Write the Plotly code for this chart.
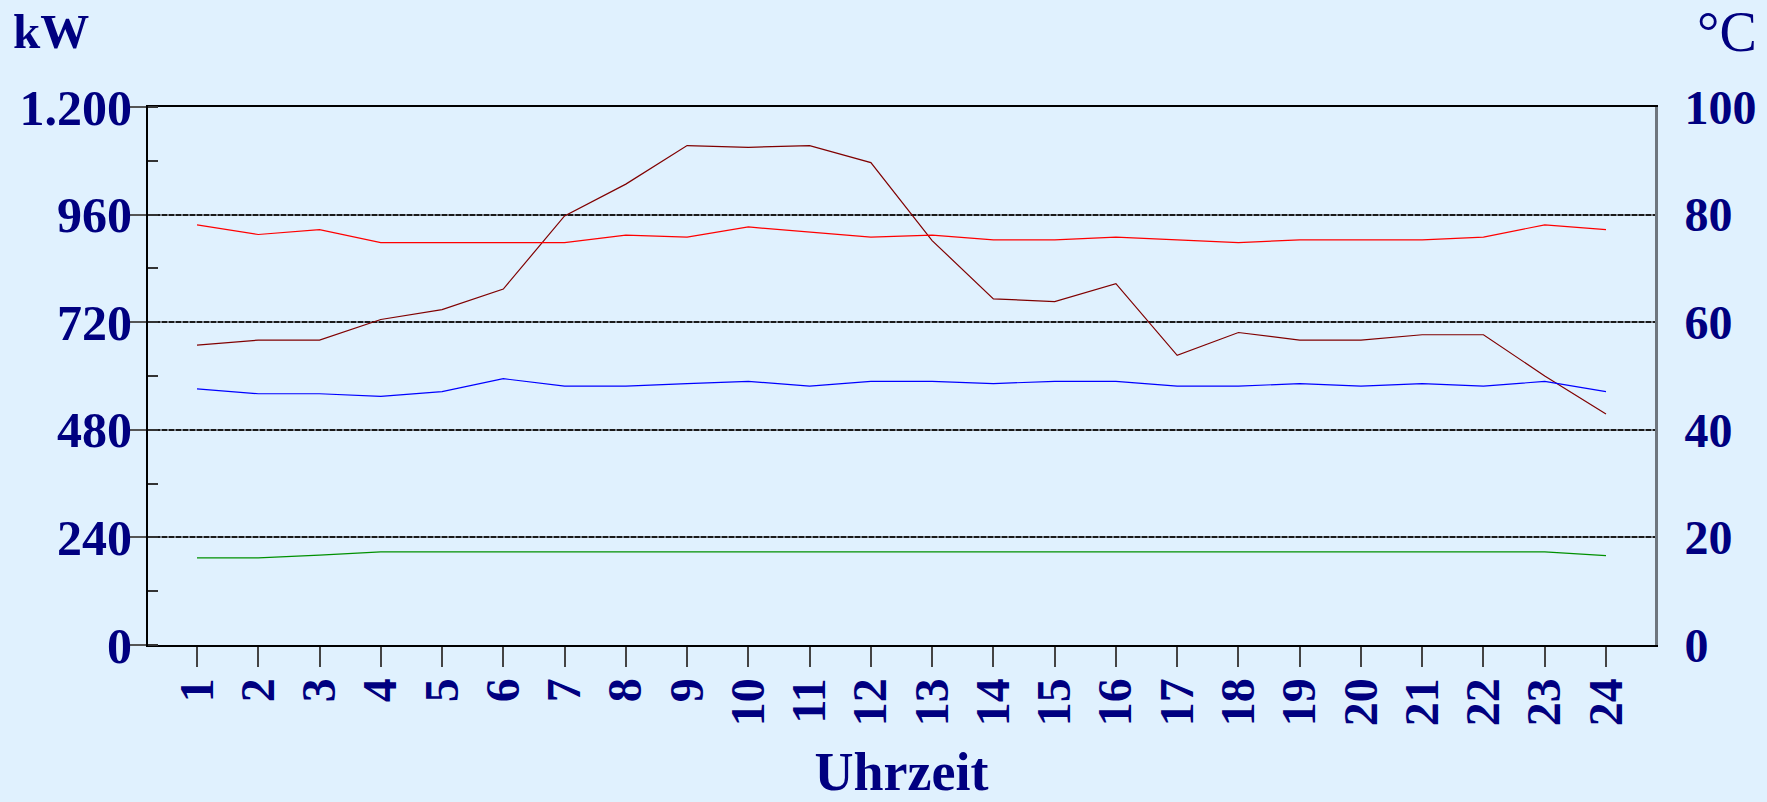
import plotly.graph_objects as go

hours = list(range(1, 25))
hour_labels = [str(h) for h in hours]

# Load (kW, left axis)
leistung_kw = [669, 680, 680, 726, 748, 794, 957, 1028, 1114, 1110, 1114, 1076,
               902, 772, 766, 806, 646, 697, 680, 680, 692, 692, 600, 515]
# Temperatures (°C, right axis)
vorlauf_c = [78.1, 76.3, 77.2, 74.8, 74.8, 74.8, 74.8, 76.2, 75.8, 77.7, 76.7, 75.8,
             76.2, 75.3, 75.3, 75.8, 75.3, 74.8, 75.3, 75.3, 75.3, 75.8, 78.1, 77.2]
ruecklauf_c = [47.6, 46.7, 46.7, 46.2, 47.1, 49.5, 48.1, 48.1, 48.6, 49.0, 48.1, 49.0,
               49.0, 48.6, 49.0, 49.0, 48.1, 48.1, 48.6, 48.1, 48.6, 48.1, 49.0, 47.1]
aussen_c = [16.2, 16.2, 16.7, 17.3, 17.3, 17.3, 17.3, 17.3, 17.3, 17.3, 17.3, 17.3,
            17.3, 17.3, 17.3, 17.3, 17.3, 17.3, 17.3, 17.3, 17.3, 17.3, 17.3, 16.6]

kw_ticks = [0, 240, 480, 720, 960, 1200]
kw_ticktext = ["0", "240", "480", "720", "960", "1.200"]
c_ticks = [0, 20, 40, 60, 80, 100]
c_ticktext = ["0", "20", "40", "60", "80", "100"]

NAVY = "#000080"
BG = "#E0F1FE"
FONT = "Liberation Serif"

fig = go.Figure()
fig.add_trace(go.Scatter(x=hours, y=aussen_c, yaxis="y2", mode="lines",
                         line=dict(color="#009000", width=1.2), showlegend=False))
fig.add_trace(go.Scatter(x=hours, y=ruecklauf_c, yaxis="y2", mode="lines",
                         line=dict(color="#0000FF", width=1.2), showlegend=False))
fig.add_trace(go.Scatter(x=hours, y=vorlauf_c, yaxis="y2", mode="lines",
                         line=dict(color="#FF0000", width=1.2), showlegend=False))
fig.add_trace(go.Scatter(x=hours, y=leistung_kw, mode="lines",
                         line=dict(color="#800000", width=1.2), showlegend=False))

fig.update_layout(
    width=1767, height=802,
    margin=dict(l=148, r=112, t=107, b=157, autoexpand=False),
    paper_bgcolor=BG, plot_bgcolor=BG,
    font=dict(family=FONT, color=NAVY),
    xaxis=dict(
        range=[0.2, 24.8], tickmode="array", tickvals=hours, ticktext=hour_labels,
        tickangle=-90, ticks="outside", ticklen=20, tickcolor="#444", tickwidth=1.5,
        ticklabelstandoff=-8, automargin=False,
        tickfont=dict(family=FONT, size=48, color=NAVY, weight="bold"),
        showgrid=False, zeroline=False,
        showline=True, linecolor="black", linewidth=2, mirror=True,
        title=dict(text="Uhrzeit", font=dict(family=FONT, size=54, color=NAVY, weight="bold"),
                   standoff=40),
    ),
    yaxis=dict(
        range=[0, 1200], tickmode="array", tickvals=kw_ticks, ticktext=kw_ticktext,
        ticks="outside", ticklen=18, tickcolor="#555", tickwidth=1.5,
        ticklabelstandoff=-14, automargin=False,
        minor=dict(dtick=120, tick0=0, ticks="inside", ticklen=10, tickcolor="#333",
                   tickwidth=1.5, showgrid=False),
        tickfont=dict(family=FONT, size=50, color=NAVY, weight="bold"),
        showgrid=True, gridcolor="#7A8088", gridwidth=2,
        zeroline=False, showline=True, linecolor="black", linewidth=2,
    ),
    yaxis2=dict(
        range=[0, 100], overlaying="y", side="right", tickmode="array",
        tickvals=c_ticks, ticktext=c_ticktext, ticks="outside", ticklen=17,
        tickcolor="rgba(0,0,0,0)", automargin=False,
        tickfont=dict(family=FONT, size=48, color=NAVY, weight="bold"),
        showgrid=True, gridcolor="#1A1A1A", gridwidth=2, griddash="5px,2px",
        zeroline=False, showline=True, linecolor="#6E767E", linewidth=3,
    ),
    annotations=[
        dict(text="kW", xref="paper", yref="paper", x=0, y=1, xshift=-137, yshift=105,
             xanchor="left", yanchor="top", showarrow=False,
             font=dict(family=FONT, size=49, color=NAVY, weight="bold")),
        dict(text="°C", xref="paper", yref="paper", x=1, y=1, xshift=104, yshift=108,
             xanchor="right", yanchor="top", showarrow=False,
             font=dict(family=FONT, size=56, color=NAVY)),
    ],
)

fig.write_html(
    "out.html",
    config={"displayModeBar": False},
    post_script="document.body.style.margin='0';document.body.style.background='#E0F1FE';",
)
